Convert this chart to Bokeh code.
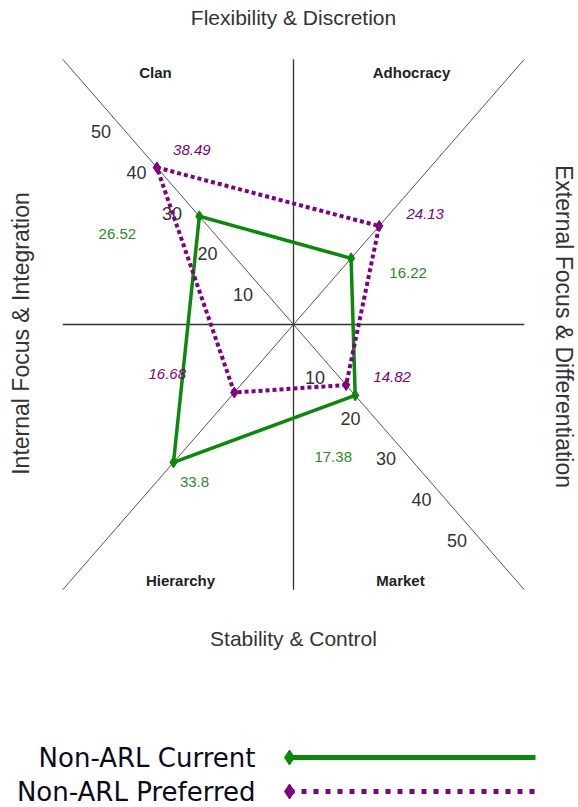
import numpy as np
from bokeh.plotting import figure
from bokeh.models import Range1d
from bokeh.core.properties import value
from bokeh.embed import file_html
from bokeh.resources import INLINE

# ---------------- data ----------------
quadrants = ["Clan", "Adhocracy", "Market", "Hierarchy"]
current = [26.52, 16.22, 17.38, 33.8]
preferred = [38.49, 24.13, 14.82, 16.68]
tick_values = [10, 20, 30, 40, 50]
series_names = ["Non-ARL Current", "Non-ARL Preferred"]
top_title = "Flexibility & Discretion"
bottom_title = "Stability & Control"
left_title = "Internal Focus & Integration"
right_title = "External Focus & Differentiation"

# ---------------- styles / layout ----------------
W, H = 578, 806
KX, KY = 3.55, 4.08          # pixels per unit
CX, CY = 293, 324            # centre in canvas px
AX_LEN = 65
dirs = {"Clan": (-1, 1), "Adhocracy": (1, 1), "Market": (1, -1), "Hierarchy": (-1, -1)}
GREEN = "#0a8a0a"
PURPLE = "#800080"
FONT = "Liberation Sans"

def X(px):  # canvas px -> data
    return (px - CX) / KX

def Y(py):
    return (CY - py) / KY

p = figure(width=W, height=H, output_backend="svg", toolbar_location=None,
           x_range=Range1d(-CX / KX, (W - CX) / KX),
           y_range=Range1d((CY - H) / KY, CY / KY),
           x_axis_type=None, y_axis_type=None, min_border=0,
           background_fill_color="white", border_fill_color="white")
p.outline_line_color = None
p.grid.visible = False

# axes
p.segment(x0=[-AX_LEN, 0], y0=[0, -AX_LEN], x1=[AX_LEN, 0], y1=[0, AX_LEN],
          line_color="#333333", line_width=1.3)
p.segment(x0=[-AX_LEN, -AX_LEN], y0=[AX_LEN, -AX_LEN], x1=[AX_LEN, AX_LEN], y1=[-AX_LEN, AX_LEN],
          line_color="#555555", line_width=1)

# tick labels along Clan and Market diagonals
tick_off_ul = (-15, 11)
tick_off_lr = (-14, 12)
tx, ty, tt = [], [], []
for v in tick_values:
    tx.append(-v + tick_off_ul[0] / KX); ty.append(v - tick_off_ul[1] / KY); tt.append(str(v))
    tx.append(v + tick_off_lr[0] / KX); ty.append(-v - tick_off_lr[1] / KY); tt.append(str(v))
p.text(x=tx, y=ty, text=tt, text_font=value(FONT), text_font_size="18px",
       text_color="#333333", text_align="center", text_baseline="middle")

# series polygons
def coords(vals):
    xs = [dirs[q][0] * v for q, v in zip(quadrants, vals)]
    ys = [dirs[q][1] * v for q, v in zip(quadrants, vals)]
    return xs, ys

cx_, cy_ = coords(current)
px_, py_ = coords(preferred)
p.line(x=cx_ + cx_[:1], y=cy_ + cy_[:1], line_color=GREEN, line_width=3.5)
p.scatter(x=cx_, y=cy_, marker="diamond", size=11, fill_color=GREEN, line_color=GREEN)
p.line(x=px_ + px_[:1], y=py_ + py_[:1], line_color=PURPLE, line_width=4, line_dash="4 3")
p.scatter(x=px_, y=py_, marker="diamond", size=11, fill_color=PURPLE, line_color=PURPLE)

# value labels (pixel offsets from the point)
cur_off = [(-82, 18), (57, 15), (-22, 62), (21, 20)]
pref_off = [(35, -17), (46, -12), (46, -8), (-67, -19)]
def fmt(v):
    return ("%g" % v)
p.text(x=[x + o[0] / KX for x, o in zip(cx_, cur_off)],
       y=[y - o[1] / KY for y, o in zip(cy_, cur_off)],
       text=[fmt(v) for v in current], text_font=value(FONT), text_font_size="15px",
       text_color="#2a8a2a", text_align="center", text_baseline="middle")
p.text(x=[x + o[0] / KX for x, o in zip(px_, pref_off)],
       y=[y - o[1] / KY for y, o in zip(py_, pref_off)],
       text=[fmt(v) for v in preferred], text_font=value(FONT), text_font_size="15px",
       text_font_style="italic",
       text_color=PURPLE, text_align="center", text_baseline="middle")

# quadrant names
q_pos = {"Clan": (155, 72), "Adhocracy": (411, 72), "Market": (400, 580), "Hierarchy": (180, 580)}
p.text(x=[X(q_pos[q][0]) for q in quadrants], y=[Y(q_pos[q][1]) for q in quadrants],
       text=quadrants, text_font=value(FONT), text_font_size="15px", text_font_style="bold",
       text_color="#222222", text_align="center", text_baseline="middle")

# axis titles
p.text(x=[X(293), X(293)], y=[Y(17), Y(638)], text=[top_title, bottom_title],
       text_font=value(FONT), text_font_size="21px", text_color="#333333",
       text_align="center", text_baseline="middle")
p.text(x=[X(20)], y=[Y(333)], text=[left_title], angle=np.pi / 2,
       text_font=value(FONT), text_font_size="23px", text_color="#333333",
       text_align="center", text_baseline="middle")
p.text(x=[X(563)], y=[Y(326)], text=[right_title], angle=-np.pi / 2,
       text_font=value(FONT), text_font_size="23px", text_color="#333333",
       text_align="center", text_baseline="middle")

# legend
leg_y = [Y(757), Y(791)]
p.text(x=[X(255), X(255)], y=leg_y, text=series_names, text_font=value("DejaVu Sans"),
       text_font_size="26px",
       text_color="#0a0a1e", text_align="right", text_baseline="middle")
p.line(x=[X(289), X(535)], y=[leg_y[0], leg_y[0]], line_color=GREEN, line_width=5)
p.line(x=[X(289), X(535)], y=[leg_y[1], leg_y[1]], line_color=PURPLE, line_width=5, line_dash="5 7")
p.scatter(x=[X(289), X(289)], y=leg_y, marker="diamond", size=15,
          fill_color=[GREEN, PURPLE], line_color=[GREEN, PURPLE])

open("out.html", "w").write(file_html(p, INLINE))
